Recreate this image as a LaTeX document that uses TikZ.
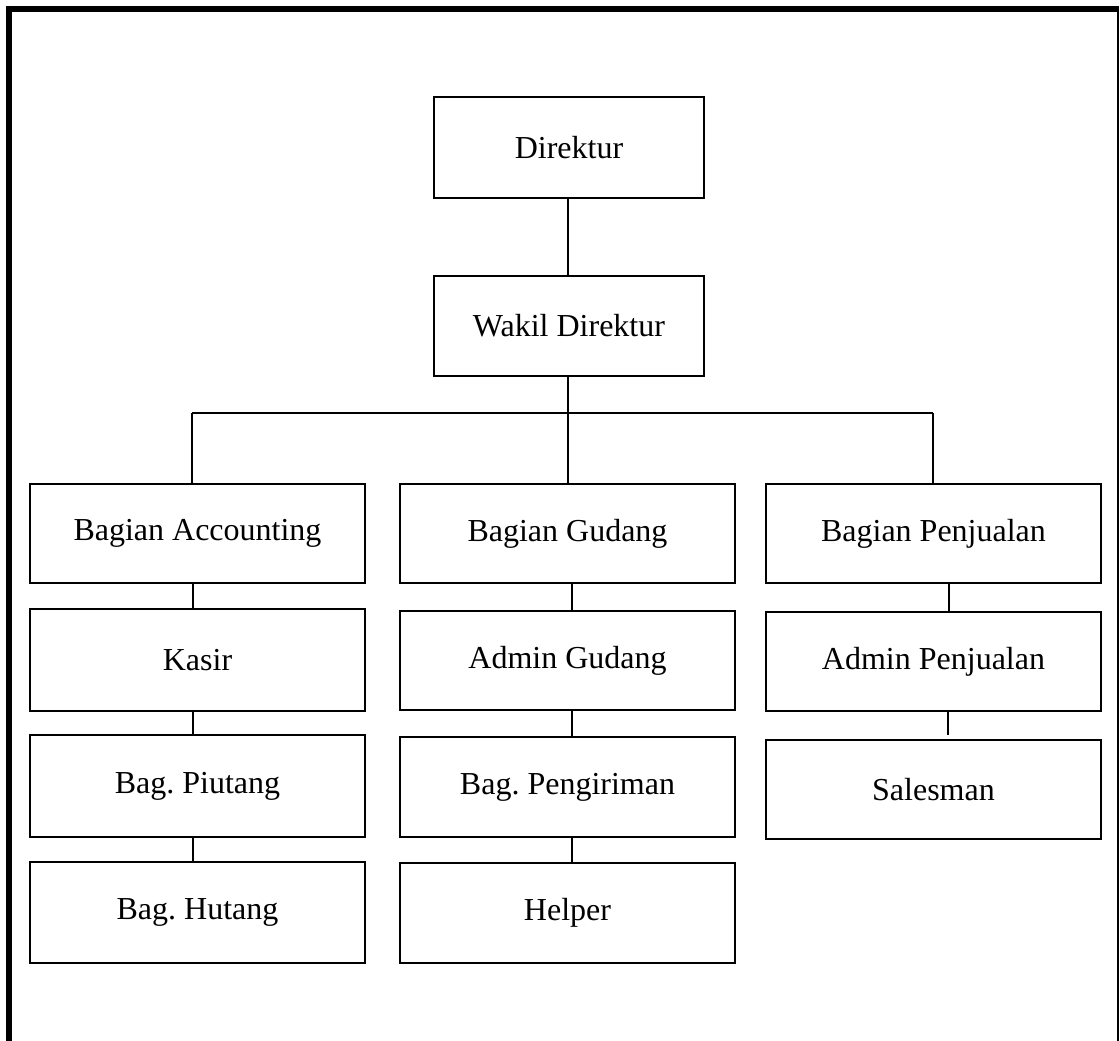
\documentclass[tikz,border=0pt]{standalone}
\usepackage{fontspec}
\setmainfont{Liberation Serif}
\frenchspacing
\begin{document}
\begin{tikzpicture}[x=1pt,y=-1pt,
  unit/.style={draw=black, line width=2pt, minimum width=335pt, minimum height=100pt,
    inner sep=0pt, font=\fontsize{32}{38}\selectfont},
  topunit/.style={unit, minimum width=270pt},
  link/.style={draw=black, line width=2pt}]
\useasboundingbox (0,0) rectangle (1120,1041);

% outer frame (open at the bottom)
\draw[line width=6pt] (9,1041) -- (9,9) -- (1119,9);
\draw[line width=2pt] (1118,6) -- (1118,1041);

% management
\node[topunit, minimum height=101pt] (dir) at (569,147.5) {Direktur};
\node[topunit] (wakil) at (569,326) {Wakil Direktur};

% departments
\node[unit, minimum height=99pt] (acc) at (197.5,533.5) {Bagian Accounting};
\node[unit, minimum height=99pt] (gud) at (567.5,533.5) {Bagian Gudang};
\node[unit, minimum height=99pt] (jual) at (933.5,533.5) {Bagian Penjualan};

% staff
\node[unit, minimum height=102pt] (kasir) at (197.5,660) {Kasir};
\node[unit, minimum height=102pt] (piutang) at (197.5,786) {Bag. Piutang};
\node[unit, minimum height=101pt] (hutang) at (197.5,912.5) {Bag. Hutang};

\node[unit, minimum height=99pt] (admg) at (567.5,660.5) {Admin Gudang};
\node[unit] (kirim) at (567.5,787) {Bag. Pengiriman};
\node[unit] (helper) at (567.5,913) {Helper};

\node[unit, minimum height=99pt] (admj) at (933.5,661.5) {Admin Penjualan};
\node[unit, minimum height=99pt] (sales) at (933.5,789.5) {Salesman};

% column positions of the connectors
\coordinate (cTop) at (568,0);
\coordinate (cL) at (192,0);
\coordinate (cR) at (933,0);
\coordinate (bus) at (0,413);
\coordinate (cA) at (193,0);
\coordinate (cG) at (572,0);
\coordinate (cP) at (949,0);
\coordinate (cS) at (948,0);

% connectors
\draw[link] (dir.south -| cTop) -- (wakil.north -| cTop);
\draw[link] (wakil.south -| cTop) -- (bus -| cTop);
\draw[link] (bus -| cL) -- (bus -| cR);
\draw[link] (bus -| cL) -- (acc.north -| cL);
\draw[link] (bus -| cTop) -- (gud.north -| cTop);
\draw[link] (bus -| cR) -- (jual.north -| cR);

\draw[link] (acc.south -| cA) -- (kasir.north -| cA);
\draw[link] (kasir.south -| cA) -- (piutang.north -| cA);
\draw[link] (piutang.south -| cA) -- (hutang.north -| cA);

\draw[link] (gud.south -| cG) -- (admg.north -| cG);
\draw[link] (admg.south -| cG) -- (kirim.north -| cG);
\draw[link] (kirim.south -| cG) -- (helper.north -| cG);

\draw[link] (jual.south -| cP) -- (admj.north -| cP);
\draw[link] (admj.south -| cS) -- ([yshift=4pt]sales.north -| cS);
\end{tikzpicture}
\end{document}
